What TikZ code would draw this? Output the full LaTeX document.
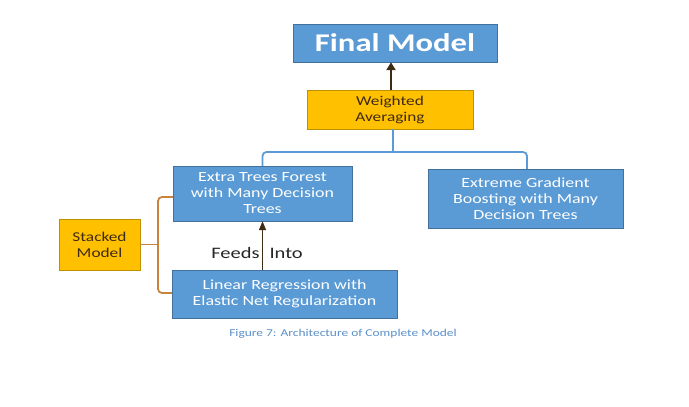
\documentclass[tikz,border=0pt]{standalone}
\usepackage{fontspec}
\setmainfont{Carlito}[FakeStretch=1.28]
\usetikzlibrary{arrows.meta}
\definecolor{boxblue}{HTML}{5B9BD5}
\definecolor{boxline}{HTML}{41719C}
\definecolor{boxgold}{HTML}{FFC000}
\definecolor{goldline}{HTML}{BF9000}
\definecolor{bracegold}{HTML}{C8843A}
\definecolor{arrowbrown}{HTML}{3F2A14}
\definecolor{captionblue}{HTML}{5B8FC9}
\begin{document}
\begin{tikzpicture}[x=1pt,y=-1pt,
  bluebox/.style={draw=boxline, fill=boxblue, text=white, align=center, inner sep=0pt, font=\fontsize{14}{16}\selectfont},
  goldbox/.style={draw=goldline, fill=boxgold, text=arrowbrown, align=center, inner sep=0pt, font=\fontsize{13.5}{16}\selectfont},
  feed/.style={draw=arrowbrown, -{Triangle[length=7pt,width=7pt]}},
  brace/.style={line width=1.8pt, rounded corners=4pt}]
\useasboundingbox (0,0) rectangle (689,407);
\node[bluebox, minimum width=204pt, minimum height=38pt, font=\fontsize{25.5}{28}\selectfont\bfseries] (f) at (395,43) {Final Model};
\node[goldbox, minimum width=166pt, minimum height=39pt] (w) at (390,109.5) {Weighted\\Averaging};
\node[bluebox, minimum width=179pt, minimum height=55pt] (e) at (262.5,193.5) {Extra Trees Forest\\with Many Decision\\Trees};
\node[bluebox, minimum width=195pt, minimum height=59pt] (x) at (525.5,198.5) {Extreme Gradient\\Boosting with Many\\Decision Trees};
\node[goldbox, minimum width=81pt, minimum height=51pt] (s) at (99.5,244.5) {Stacked\\Model};
\node[bluebox, minimum width=225pt, minimum height=48pt] (l) at (284.5,294) {Linear Regression with\\Elastic Net Regularization};
\node[text=black!85, font=\fontsize{16}{18}\selectfont] (t) at (257,253) {Feeds\hspace{10pt}Into};
\node[text=captionblue, font=\fontsize{10.5}{12}\selectfont] (c) at (343,334) {Figure 7: Architecture of Complete Model};
% blue brace
\coordinate (m) at (393,152);
\draw[brace, draw=boxblue] (e.north) |- (m) -| (x.north -| 527,0);
\draw[brace, draw=boxblue] (w.south -| m) -- (m);
% orange brace
\coordinate (k1) at (158,197);
\coordinate (k2) at (158,293);
\draw[brace, draw=bracegold] (k1 -| e.west) -- (k1) -- (k2) -- (k2 -| l.west);
\draw[brace, draw=bracegold] (s.east) -- (s.east -| k1);
% arrows
\draw[feed, line width=2.5pt, -{Triangle[length=8pt,width=9pt]}] (w.north -| 391,0) -- (f.south -| 391,0);
\draw[feed, line width=1.5pt, -{Triangle[length=9pt,width=7pt]}] (l.north -| e.south) -- (e.south);
\end{tikzpicture}
\end{document}
